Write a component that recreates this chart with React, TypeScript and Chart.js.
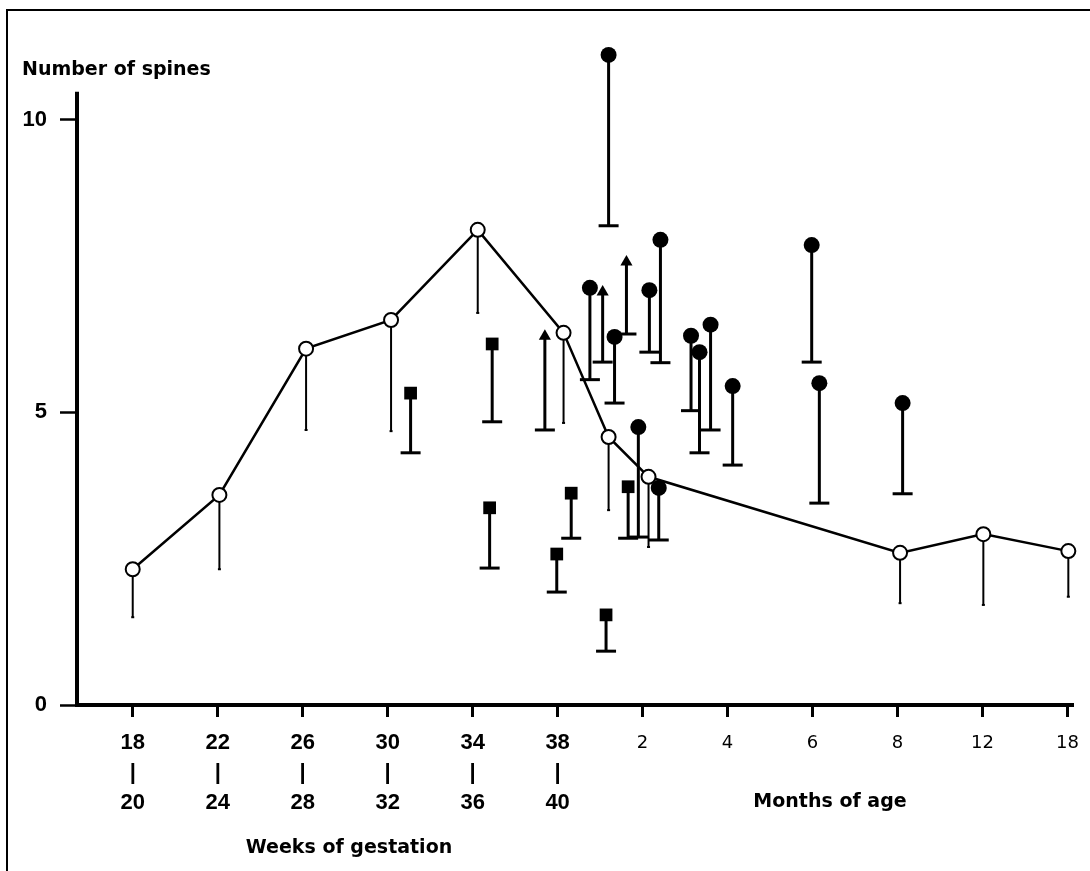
import React, { useEffect, useRef } from 'react';
import { Chart, registerables } from 'chart.js';

Chart.register(...registerables);

// ---- axis labels ----
const weekTop = ['18', '22', '26', '30', '34', '38'];
const weekBottom = ['20', '24', '28', '32', '36', '40'];
const monthLabels = ['2', '4', '6', '8', '12', '18'];
const xTickPositions = [0, 1, 2, 3, 4, 5, 6, 7, 8, 9, 10, 11];
const yTickValues = [0, 5, 10];
const yAxisLineTop = 10.48; // top end of the drawn y-axis line

// ---- open circles (mean line), lower bar ends ----
const meanX = [0, 1.02, 2.04, 3.04, 4.06, 5.07, 5.6, 6.07, 9.03, 10.01, 11.01];
const meanY = [2.32, 3.59, 6.09, 6.58, 8.12, 6.36, 4.58, 3.9, 2.6, 2.92, 2.63];
const meanLow = [1.5, 2.32, 4.7, 4.68, 6.7, 4.82, 3.33, 2.7, 1.74, 1.71, 1.85];

// ---- filled circles ----
const circleX = [5.6, 5.38, 5.67, 5.95, 6.08, 6.21, 6.19, 6.57, 6.67, 6.8, 7.06, 7.99, 8.08, 9.06];
const circleY = [11.11, 7.13, 6.29, 4.75, 7.09, 7.95, 3.71, 6.31, 6.03, 6.5, 5.45, 7.86, 5.5, 5.16];
const circleLow = [8.19, 5.56, 5.16, 2.87, 6.03, 5.85, 2.82, 5.03, 4.31, 4.7, 4.1, 5.86, 3.45, 3.61];

// ---- filled squares ----
const squareX = [3.27, 4.23, 4.2, 4.99, 5.16, 5.57, 5.83];
const squareY = [5.33, 6.17, 3.37, 2.58, 3.62, 1.54, 3.73];
const squareLow = [4.31, 4.84, 2.34, 1.93, 2.85, 0.92, 2.85];

// ---- filled triangles ----
const triangleX = [4.85, 5.53, 5.81];
const triangleY = [6.3, 7.06, 7.57];
const triangleLow = [4.7, 5.86, 6.34];

const toPoints = (xs: number[], ys: number[]) => xs.map((x, i) => ({ x, y: ys[i] }));

const errorBarPlugin = {
  id: 'errorBars',
  beforeDatasetsDraw(chart: any) {
    const ctx = chart.ctx;
    const yScale = chart.scales.y;
    // y-axis line
    ctx.save();
    ctx.strokeStyle = '#000';
    ctx.lineWidth = 4;
    ctx.beginPath();
    ctx.moveTo(chart.chartArea.left - 1, yScale.getPixelForValue(0) + 2);
    ctx.lineTo(chart.chartArea.left - 1, yScale.getPixelForValue(yAxisLineTop));
    ctx.stroke();
    ctx.restore();

    chart.data.datasets.forEach((ds: any, i: number) => {
      const lows: number[] | undefined = ds.lows;
      if (!lows) return;
      const meta = chart.getDatasetMeta(i);
      ctx.save();
      ctx.strokeStyle = '#000';
      ctx.lineCap = 'butt';
      meta.data.forEach((el: any, j: number) => {
        const x = el.x;
        const y = el.y;
        const yl = yScale.getPixelForValue(lows[j]);
        ctx.lineWidth = ds.stemWidth;
        ctx.beginPath();
        ctx.moveTo(x, y);
        ctx.lineTo(x, yl);
        ctx.stroke();
        ctx.lineWidth = ds.capWidth;
        ctx.beginPath();
        ctx.moveTo(x - ds.capHalf, yl);
        ctx.lineTo(x + ds.capHalf, yl);
        ctx.stroke();
      });
      ctx.restore();
    });
  },
};

const framePlugin = {
  id: 'frameAndTexts',
  beforeDraw(chart: any) {
    const ctx = chart.ctx;
    ctx.save();
    ctx.fillStyle = '#fff';
    ctx.fillRect(0, 0, chart.width, chart.height);
    ctx.strokeStyle = '#000';
    ctx.lineWidth = 2;
    ctx.beginPath();
    ctx.moveTo(7, 871);
    ctx.lineTo(7, 10);
    ctx.lineTo(1090, 10);
    ctx.stroke();
    ctx.restore();
  },
  afterDraw(chart: any) {
    const ctx = chart.ctx;
    ctx.save();
    ctx.fillStyle = '#000';
    ctx.textBaseline = 'alphabetic';
    ctx.font = 'bold 19px "DejaVu Sans"';
    ctx.textAlign = 'left';
    ctx.fillText('Number of spines', 22, 75);
    ctx.textAlign = 'center';
    ctx.fillText('Months of age', 830, 807);
    ctx.fillText('Weeks of gestation', 349, 853);
    ctx.restore();
  },
};

export default function App() {
  const canvasRef = useRef<HTMLCanvasElement | null>(null);

  useEffect(() => {
    if (!canvasRef.current) return;
    const chart = new Chart(canvasRef.current, {
      type: 'scatter',
      data: {
        datasets: [
          {
            label: 'mean',
            data: toPoints(meanX, meanY),
            showLine: true,
            borderColor: '#000',
            borderWidth: 2.5,
            pointStyle: 'circle',
            pointRadius: 7,
            pointBorderWidth: 2,
            pointBackgroundColor: '#fff',
            pointBorderColor: '#000',
            clip: false,
            lows: meanLow,
            stemWidth: 2,
            capWidth: 2,
            capHalf: 1.5,
          } as any,
          {
            label: 'circles',
            data: toPoints(circleX, circleY),
            showLine: false,
            pointStyle: 'circle',
            pointRadius: 8,
            pointBorderWidth: 0,
            pointBackgroundColor: '#000',
            pointBorderColor: '#000',
            clip: false,
            lows: circleLow,
            stemWidth: 3,
            capWidth: 3,
            capHalf: 10,
          } as any,
          {
            label: 'squares',
            data: toPoints(squareX, squareY),
            showLine: false,
            pointStyle: 'rect',
            pointRadius: 9,
            pointBorderWidth: 0,
            pointBackgroundColor: '#000',
            pointBorderColor: '#000',
            clip: false,
            lows: squareLow,
            stemWidth: 3,
            capWidth: 3,
            capHalf: 10,
          } as any,
          {
            label: 'triangles',
            data: toPoints(triangleX, triangleY),
            showLine: false,
            pointStyle: 'triangle',
            pointRadius: 7,
            pointBorderWidth: 0,
            pointBackgroundColor: '#000',
            pointBorderColor: '#000',
            clip: false,
            lows: triangleLow,
            stemWidth: 3,
            capWidth: 3,
            capHalf: 10,
          } as any,
        ],
      },
      options: {
        animation: false,
        responsive: false,
        layout: { padding: { left: 0, top: 35, right: 12, bottom: 0 } },
        plugins: {
          legend: { display: false },
          tooltip: { enabled: false },
          title: { display: false },
        },
        scales: {
          x: {
            type: 'linear',
            min: -0.644,
            max: 11.07,
            afterFit: (scale: any) => {
              scale.height = 166;
            },
            afterBuildTicks: (scale: any) => {
              scale.ticks = xTickPositions.map((v) => ({ value: v }));
            },
            border: { display: true, width: 4, color: '#000' },
            grid: {
              drawOnChartArea: false,
              drawTicks: true,
              tickLength: 12,
              tickWidth: 3,
              tickColor: '#000',
            },
            ticks: {
              autoSkip: false,
              maxRotation: 0,
              minRotation: 0,
              padding: 11,
              color: '#000',
              font: (c: any) =>
                c.index < 6
                  ? { family: '"Liberation Sans", Arial, sans-serif', size: 22, weight: 'bold', lineHeight: '30px' }
                  : { family: '"DejaVu Sans", sans-serif', size: 18, weight: 'normal', lineHeight: '30px' },
              callback: (_v: any, index: number) =>
                index < 6 ? [weekTop[index], '|', weekBottom[index]] : monthLabels[index - 6],
            },
          },
          y: {
            type: 'linear',
            min: 0,
            max: 11.45,
            afterFit: (scale: any) => {
              scale.width = 78;
            },
            afterBuildTicks: (scale: any) => {
              scale.ticks = yTickValues.map((v) => ({ value: v }));
            },
            border: { display: false },
            grid: {
              drawOnChartArea: false,
              drawTicks: true,
              tickLength: 18,
              tickWidth: 2.5,
              tickColor: '#000',
            },
            ticks: {
              padding: 13,
              color: '#000',
              font: { family: '"Liberation Sans", Arial, sans-serif', size: 22, weight: 'bold' },
              callback: (v: any) => String(v),
            },
          },
        },
      },
      plugins: [errorBarPlugin, framePlugin],
    } as any);
    return () => {
      chart.destroy();
    };
  }, []);

  return (
    <div style={{ position: 'absolute', left: 0, top: 0, width: 1090, height: 871, overflow: 'hidden' }}>
      <canvas ref={canvasRef} width={1090} height={871} style={{ width: 1090, height: 871, display: 'block' }} />
    </div>
  );
}
